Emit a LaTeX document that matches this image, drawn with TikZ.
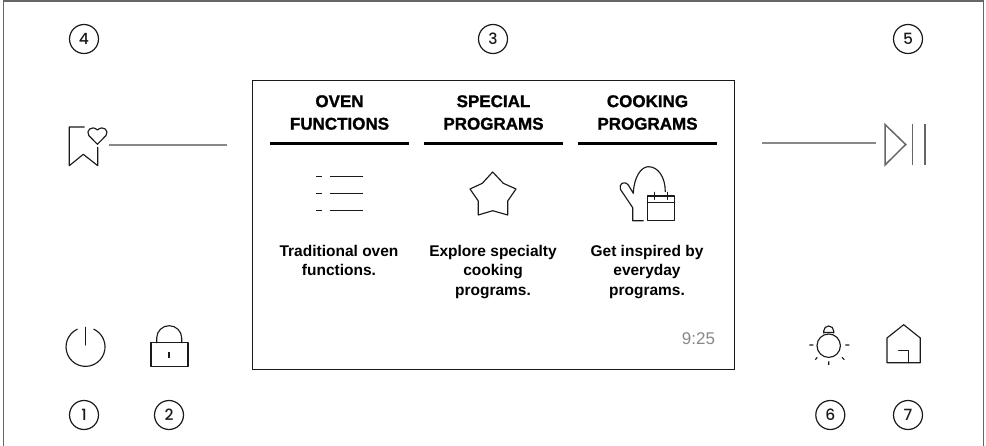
\documentclass[tikz,border=0pt]{standalone}
\usepackage{fontspec}
\setmainfont{Liberation Sans}
\newfontfamily\numfont{Poppins Medium}
\newfontfamily\headfont{Liberation Sans Bold}[FakeBold=1.2]
\newfontfamily\bodyfont{Liberation Sans Bold}
\definecolor{ink}{HTML}{1A1A1A}
\definecolor{rule}{HTML}{888888}
\definecolor{dim}{HTML}{666666}
\begin{document}
\begin{tikzpicture}[x=1pt,y=-1pt,
  icon/.style={draw=ink,line width=1.15pt,line cap=round,line join=round},
  dimicon/.style={draw=dim,line width=1.5pt},
  leader/.style={draw=rule,line width=2pt},
  badge/.style={circle,draw=ink,line width=1.2pt,minimum size=29pt,inner sep=0pt,text=ink,font=\numfont\fontsize{15.5}{15.5}\selectfont},
  heading/.style={align=center,text=black,font=\headfont\fontsize{17}{22.5}\selectfont},
  body/.style={align=center,text=black,font=\bodyfont\fontsize{15.5}{19.5}\selectfont},
  tabrule/.style={draw=black,line width=3pt}]
\useasboundingbox (0,0) rectangle (986,446);
\draw[draw=dim,line width=1.5pt] (3.5,446) -- (3.5,1) -- (983.5,1) -- (983.5,446);
\draw[draw=ink,line width=1pt] (252,81) rectangle (734.7,370);
% badges
\node[badge] (b4) at (84,39) {4};
\node[badge] (b3) at (493,39) {3};
\node[badge] (b5) at (908,39) {5};
\node[badge] (b1) at (84,415) {1};
\node[badge] (b2) at (169,415) {2};
\node[badge] (b6) at (830.3,415) {6};
\node[badge] (b7) at (908,415) {7};
% headings
\node[heading] (h1) at (339.5,112.5) {OVEN\\FUNCTIONS};
\node[heading] (h2) at (493.5,112.5) {SPECIAL\\PROGRAMS};
\node[heading] (h3) at (647.5,112.5) {COOKING\\PROGRAMS};
\draw[tabrule] (270,143.5) -- (409,143.5);
\draw[tabrule] (424,143.5) -- (563,143.5);
\draw[tabrule] (578,143.5) -- (717,143.5);
% body text
\node[body,anchor=north] (t1) at (339,241.5) {Traditional oven\\functions.};
\node[body,anchor=north] (t2) at (493,241.5) {Explore specialty\\cooking\\programs.};
\node[body,anchor=north] (t3) at (647,241.5) {Get inspired by\\everyday\\programs.};
\node[text=rule,font=\fontsize{17}{17}\selectfont] (clock) at (698.5,339) {9:25};
% list icon
\foreach \y in {177,194,211}{
  \draw[icon,line cap=butt,line width=1pt] (316,\y) -- (322,\y) (330,\y) -- (363,\y);
}
% star
\draw[icon] (492.7,172) -- (503.3,183.3) -- (516,189) -- (507.7,201) -- (507.7,215) -- (492.7,210.7) -- (478.3,215) -- (478.3,201) -- (470,189) -- (482.3,183.3) -- cycle;
% mitt with calendar
\draw[icon] (643.3,220.7) -- (632.7,220.7) -- (632.7,207.7) -- (620.5,189.5)
  .. controls (618.5,184) and (624,180) .. (628.3,185) -- (633.3,193.3)
  .. controls (634,177) and (641,166.7) .. (648.5,166.7)
  .. controls (658,166.7) and (665.3,177) .. (665.3,191.7);
\draw[icon] (647.3,196) rectangle (674.7,220.7);
\draw[icon] (647.3,202.3) -- (674.7,202.3);
\draw[icon] (654.3,192.3) -- (654.3,199.3) (667.7,192.3) -- (667.7,199.3);
% bookmark with heart
\draw[icon] (84.3,127) -- (69.3,127) -- (69.3,165.7) -- (83.3,154.3) -- (97.7,165.7) -- (97.7,147.3);
\draw[icon] (97.4,144.3) -- (88.8,135.5)
  .. controls (85.5,131) and (91.5,124.5) .. (97.4,130)
  .. controls (103.3,124.5) and (109.5,131) .. (106,135.5) -- cycle;
\draw[leader] (109,145) -- (227,145);
% play/pause
\draw[leader] (762,143.5) -- (875.7,143.5);
\draw[dimicon,line join=miter] (885,124.5) -- (905.7,144.5) -- (885,165) -- cycle;
\draw[dimicon] (912.3,124.3) -- (912.3,165) (925,124.3) -- (925,165);
% power
\draw[icon] (85.7,327.3) -- (85.7,345);
\draw[icon] (77.3,329.2) arc[start angle=-115,end angle=-425,radius=19.5];
% lock
\draw[icon,line width=1.6pt] (150.7,342.7) rectangle (187.7,366.7);
\draw[icon] (156.7,342.7) -- (156.7,338) arc[start angle=180,end angle=0,x radius=12.5,y radius=-12.3] -- (181.7,342.7);
\draw[icon,line cap=butt] (169,352) -- (169,358);
% bulb
\draw[icon] (828.7,345.7) circle[radius=11.7];
\draw[icon] (823.7,333) -- (823.7,331) arc[start angle=180,end angle=0,x radius=5,y radius=-5] -- (833.7,333) (823.7,332.5) -- (833.7,332.5);
\draw[icon,line cap=butt] (809.3,345) -- (813.3,345) (845.3,345) -- (849.3,345) (828.7,361.3) -- (828.7,365) (815.3,359.7) -- (817.3,357.3) (842,357.3) -- (844.3,359.7);
% home
\draw[icon] (887,362.7) -- (887,338) -- (903.7,324.7) -- (920.3,338) -- (920.3,362.7) -- cycle;
\draw[icon] (898.7,350.7) -- (908.3,350.7) -- (908.3,362.7);
\end{tikzpicture}
\end{document}
